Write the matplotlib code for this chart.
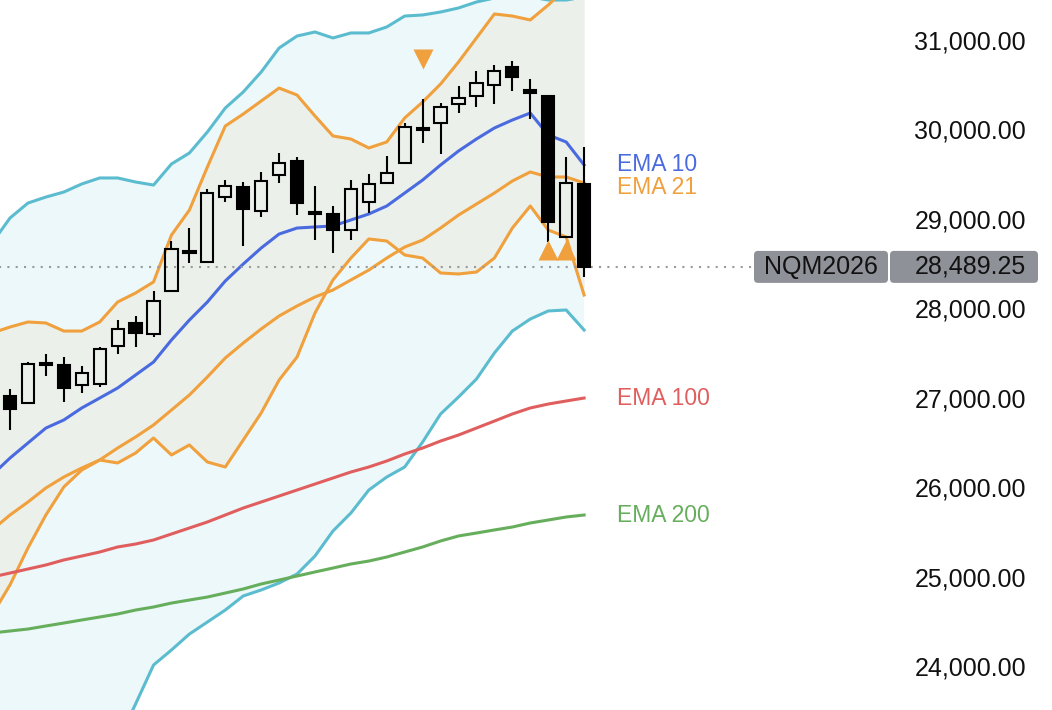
import numpy as np
import matplotlib
matplotlib.use('Agg')
import matplotlib.pyplot as plt
from matplotlib.patches import FancyBboxPatch
from matplotlib.transforms import IdentityTransform

plt.rcParams['font.family'] = ['Liberation Sans', 'DejaVu Sans']

# daily candles (oldest -> newest)
opens = [27048, 26969, 27394, 27394, 27170, 27182, 27606, 27863, 27740, 28220, 28644,
         28544, 29269, 29381, 29113, 29515, 29671, 29102, 29080, 28901, 29214, 29426,
         29649, 30017, 30096, 30308, 30397, 30520, 30721, 30464, 30397, 28823, 29415]
highs = [27126, 27427, 27517, 27483, 27383, 27595, 27896, 27941, 28220, 28778, 28923,
         29359, 29459, 29437, 29549, 29761, 29716, 29392, 29169, 29459, 29526, 29727,
         30096, 30364, 30319, 30509, 30676, 30743, 30788, 30587, 30397, 29716, 29828]
lows = [26668, 26960, 27271, 26981, 27081, 27148, 27517, 27595, 27706, 28220, 28533,
        28533, 29214, 28722, 29046, 29426, 29068, 28789, 28644, 28789, 29091, 29426,
        29649, 29872, 29750, 30207, 30274, 30308, 30453, 30140, 28767, 28812, 28376]
closes = [26902, 27405, 27416, 27137, 27304, 27572, 27796, 27751, 28108, 28689, 28666,
          29314, 29392, 29135, 29448, 29649, 29202, 29080, 28901, 29359, 29415, 29537,
          30051, 30040, 30274, 30375, 30542, 30676, 30609, 30431, 28990, 29426, 28489.25]

# indicator lines, one value before the first visible candle
ema10 = [26166, 26355, 26523, 26690, 26780, 26914, 27025, 27137, 27282, 27427, 27673,
         27896, 28097, 28332, 28521, 28700, 28856, 28923, 28935, 28946, 29013, 29080,
         29169, 29314, 29459, 29627, 29783, 29917, 30040, 30129, 30207, 29962, 29884, 29627]
ema21 = [25552, 25719, 25864, 26021, 26143, 26244, 26333, 26467, 26590, 26724, 26891,
         27059, 27260, 27472, 27639, 27796, 27941, 28053, 28153, 28231, 28343, 28454,
         28588, 28711, 28789, 28923, 29068, 29191, 29314, 29448, 29549, 29493, 29493, 29426]
ema100 = [25027, 25071, 25116, 25161, 25217, 25261, 25306, 25362, 25395, 25440, 25507,
          25574, 25641, 25719, 25797, 25864, 25931, 25998, 26065, 26132, 26199, 26255,
          26322, 26400, 26467, 26545, 26612, 26690, 26768, 26847, 26914, 26958, 26992, 27025]
ema200 = [24402, 24424, 24446, 24480, 24513, 24547, 24580, 24614, 24658, 24692, 24736,
          24770, 24803, 24848, 24893, 24949, 24993, 25038, 25083, 25127, 25172, 25205,
          25250, 25306, 25362, 25429, 25485, 25518, 25552, 25585, 25630, 25663, 25697, 25719]
inner_up = [27751, 27818, 27874, 27863, 27773, 27773, 27874, 28097, 28198, 28321, 28845,
            29124, 29604, 30062, 30196, 30341, 30486, 30408, 30174, 29951, 29917, 29817,
            29884, 30152, 30330, 30531, 30777, 31045, 31313, 31290, 31246, 31413, 31603, 31692]
inner_lo = [24603, 24938, 25351, 25719, 26032, 26221, 26333, 26300, 26411, 26579, 26389,
            26501, 26311, 26255, 26556, 26858, 27226, 27483, 27974, 28343, 28588, 28801,
            28778, 28622, 28588, 28421, 28410, 28432, 28588, 28923, 29169, 28901, 28823, 28175]
outer_up = [28756, 29035, 29202, 29269, 29325, 29415, 29482, 29482, 29437, 29403, 29638,
            29761, 29995, 30263, 30442, 30665, 30933, 31067, 31112, 31045, 31101, 31101,
            31168, 31290, 31302, 31335, 31380, 31447, 31491, 31514, 31502, 31469, 31469, 31502]
outer_lo = [21420, 21644, 21867, 22090, 22314, 22537, 22783, 23185, 23609, 24044, 24212,
            24390, 24524, 24658, 24815, 24882, 24960, 25060, 25261, 25540, 25741, 25998,
            26143, 26255, 26534, 26847, 27036, 27237, 27528, 27773, 27907, 27997, 28008, 27784]

sell_idx = [23]
sell_px = [30815]
buy_idx = [30, 31]
buy_px = [28683, 28683]

ticks = [24000, 25000, 26000, 27000, 28000, 29000, 30000, 31000]
symbol = 'NQM2026'
last_price = closes[-1]

ORANGE = '#f0a03c'
CYAN = '#5bbccf'

fig = plt.figure(figsize=(10.52, 7.10), dpi=100)
ax = fig.add_axes([0, 0, 1, 1])
ax.set_xlim(-0.557, 58.08)
ax.set_ylim(23542, 31469)
ax.axis('off')

xc = np.arange(len(opens))
xl = np.arange(-1, len(opens))

ax.fill_between(xl, outer_up, outer_lo, color='#edf8fa', lw=0, zorder=1)
ax.fill_between(xl, inner_up, inner_lo, color='#ecf0ea', lw=0, zorder=2)

ax.plot(xl, outer_up, color=CYAN, lw=2.2, zorder=3)
ax.plot(xl, outer_lo, color=CYAN, lw=2.2, zorder=3)
ax.plot(xl, inner_up, color=ORANGE, lw=2.2, zorder=3)
ax.plot(xl, inner_lo, color=ORANGE, lw=2.2, zorder=3)
ax.plot(xl, ema200, color='#66ae5c', lw=2.2, zorder=3)
ax.plot(xl, ema100, color='#e05e5e', lw=2.2, zorder=3)
ax.plot(xl, ema21, color=ORANGE, lw=2.2, zorder=3)
ax.plot(xl, ema10, color='#4a6ae0', lw=2.2, zorder=3)

# candles
o = np.array(opens); c = np.array(closes)
h = np.array(highs); l = np.array(lows)
top = np.maximum(o, c); bot = np.minimum(o, c)
ax.vlines(xc, top, h, color='black', lw=1.5, zorder=4)
ax.vlines(xc, l, bot, color='black', lw=1.5, zorder=4)
fc = ['black' if cc < oo else 'none' for oo, cc in zip(opens, closes)]
ax.bar(xc, top - bot, bottom=bot, width=0.68, color=fc, edgecolor='black',
       lw=1.5, zorder=5)

ax.plot(sell_idx, sell_px, 'v', ms=15, color=ORANGE, mec='none', zorder=6)
ax.plot(buy_idx, buy_px, '^', ms=15, color=ORANGE, mec='none', zorder=6)

# line labels (EMA 21 nudged down a touch so it clears EMA 10)
for vals, name, col, dy in [(ema10, 'EMA 10', '#4a6ae0', 0), (ema21, 'EMA 21', ORANGE, -3),
                            (ema100, 'EMA 100', '#e05e5e', 0), (ema200, 'EMA 200', '#66ae5c', 0)]:
    ax.annotate(name, xy=(xl[-1], vals[-1]), xytext=(23.5, dy), textcoords='offset points',
                ha='left', va='center', color=col, fontsize=16.5)

# price scale
ytr = ax.get_yaxis_transform()
for t in ticks:
    ax.text(1026 / 1052, t, f'{t:,.2f}', transform=ytr, ha='right', va='center',
            fontsize=18, color='#111111')

# last price line and tag
ax.plot([xl[0], 58.08 * 754 / 1052], [last_price, last_price], color='#9a9a9a',
        lw=1.5, ls=(0, (1, 3)), zorder=3)
fig.canvas.draw()
py = ax.transData.transform((0, last_price))[1]
for x0, x1 in [(754, 888), (890, 1038)]:
    ax.add_patch(FancyBboxPatch((x0, py - 16), x1 - x0, 32,
                                boxstyle='round,pad=0,rounding_size=4',
                                transform=IdentityTransform(), fc='#8f9199',
                                ec='none', zorder=7, clip_on=False))
ax.text(821, py, symbol, transform=IdentityTransform(), ha='center', va='center',
        fontsize=18, color='#111111', zorder=8)
ax.text(1026, py, f'{last_price:,.2f}', transform=IdentityTransform(), ha='right',
        va='center', fontsize=18, color='#111111', zorder=8)

fig.savefig('out.png', dpi=100)
